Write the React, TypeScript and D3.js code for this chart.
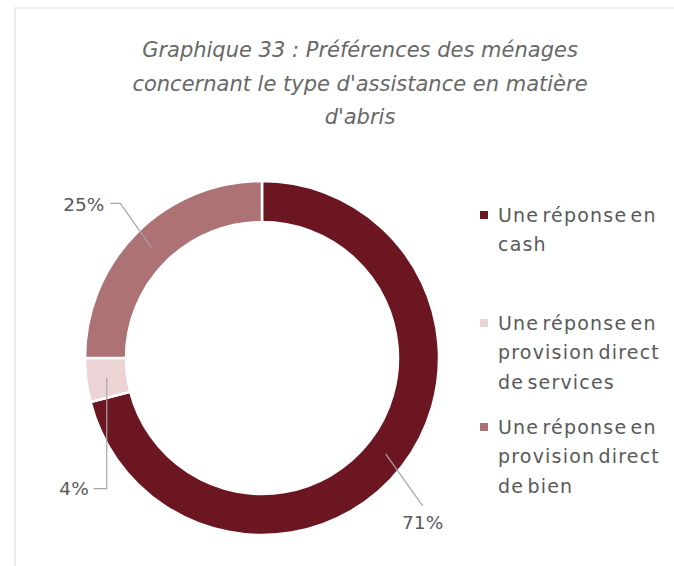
import React from "react";
import * as d3 from "d3";

// Graphique 33 : préférences des ménages, assistance en matière d'abris
const categories = [
  "Une réponse en cash",
  "Une réponse en provision direct de services",
  "Une réponse en provision direct de bien",
];
const shares = [71, 4, 25];
const legendLines = [
  ["Une réponse en", "cash"],
  ["Une réponse en", "provision direct", "de services"],
  ["Une réponse en", "provision direct", "de bien"],
];
const titleLines = [
  "Graphique 33 : Préférences des ménages",
  "concernant le type d'assistance en matière",
  "d'abris",
];
const colors = ["#6b1620", "#ecd4d5", "#ad7273"];

const W = 674;
const H = 566;
const cx = 262;
const cy = 358;
const outerR = 177;
const innerR = 136;
const textColor = "#595959";
const font = "'DejaVu Sans', sans-serif";

export default function App() {
  const pie = d3
    .pie<number>()
    .sort(null)
    .value((d) => d)
    .startAngle(0)
    .endAngle(2 * Math.PI);
  const arcs = pie(shares);
  const arc = d3
    .arc<d3.PieArcDatum<number>>()
    .innerRadius(innerR)
    .outerRadius(outerR);

  const pct = d3.format(".0%");

  // leader lines: from the ring's centroid to the label, Excel style
  const leader = (i: number, c: [number, number]) => {
    const [x, y] = [c[0] + cx, c[1] + cy];
    if (i === 0) {
      return { pts: [[x, y], [x + 37, y + 52]], tx: x + 37, ty: y + 69, anchor: "middle" };
    }
    if (i === 1) {
      return { pts: [[x, y], [x, y + 111], [x - 13, y + 111]], tx: x - 18, ty: y + 111, anchor: "end" };
    }
    return { pts: [[x, y], [x - 31, y - 44], [x - 41, y - 44]], tx: x - 47, ty: y - 43, anchor: "end" };
  };

  const legendStarts = [215, 323, 427];
  const lineH = 29.5;

  return (
    <svg
      width={W}
      height={H}
      style={{ position: "absolute", left: 0, top: 0, background: "#fff" }}
    >
      <rect x={15} y={8} width={W} height={H} fill="#fff" stroke="#eeeeee" strokeWidth={2} />
      <g fontFamily={font} fontStyle="italic" fontSize={21} fill="#686868" textAnchor="middle">
        {titleLines.map((t, i) => (
          <text key={i} x={360} y={50 + i * 33.5} dy="0.35em">
            {t}
          </text>
        ))}
      </g>
      <g>
        {arcs.map((a, i) => (
          <path
            key={categories[i]}
            d={arc(a) || ""}
            transform={`translate(${cx},${cy})`}
            fill={colors[i]}
            stroke="#fff"
            strokeWidth={2.5}
          />
        ))}
      </g>
      <g fontFamily={font} fontSize={18.5} fill={textColor}>
        {arcs.map((a, i) => {
          const l = leader(i, arc.centroid(a) as [number, number]);
          return (
            <g key={i}>
              <polyline
                points={l.pts.map((p) => p.join(",")).join(" ")}
                fill="none"
                stroke="#a6a6a6"
                strokeWidth={1.2}
              />
              <text x={l.tx} y={l.ty} dy="0.35em" textAnchor={l.anchor}>
                {pct(a.data / 100)}
              </text>
            </g>
          );
        })}
      </g>
      <g fontFamily={font} fontSize={19} fill={textColor} letterSpacing={1.2} wordSpacing={-4}>
        {legendLines.map((lines, i) => (
          <g key={i}>
            <rect x={480} y={legendStarts[i] - 4} width={8} height={8} fill={colors[i]} />
            {lines.map((t, j) => (
              <text key={j} x={498} y={legendStarts[i] + j * lineH} dy="0.35em">
                {t}
              </text>
            ))}
          </g>
        ))}
      </g>
    </svg>
  );
}
